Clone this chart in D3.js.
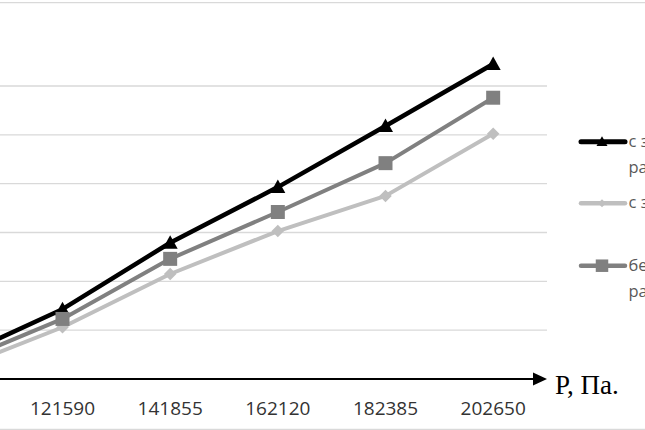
<!DOCTYPE html>
<html>
<head>
<meta charset="utf-8">
<script src="https://cdn.jsdelivr.net/npm/d3@7"></script>
<style>
  html, body { margin: 0; padding: 0; background: #fff; }
  svg { display: block; }
</style>
</head>
<body>
<svg id="chart" width="645" height="430"></svg>
<script>
// ---- data (arbitrary units, one gridline = 1) ----
const categories = ["101325", "121590", "141855", "162120", "182385", "202650"];
const seriesNames = ["с заземлением рамы", "с заземлением", "без заземления рамы"];
const seriesA = [0.41, 1.43, 2.79, 3.93, 5.18, 6.45];   // black, triangles
const seriesB = [0.19, 1.06, 2.15, 3.03, 3.75, 5.02];   // light grey, diamonds
const seriesC = [0.31, 1.23, 2.46, 3.42, 4.42, 5.76];   // grey, squares
const yTicks = [0, 1, 2, 3, 4, 5, 6];
const axisTitle = "P, Па.";

const svg = d3.select("#chart");
const W = 645, H = 430;

// chart outer borders (top and bottom visible)
svg.append("line").attr("x1", 0).attr("x2", W).attr("y1", 2.7).attr("y2", 2.7)
  .attr("stroke", "#d9d9d9").attr("stroke-width", 1.3);
svg.append("line").attr("x1", 0).attr("x2", W).attr("y1", 429.3).attr("y2", 429.3)
  .attr("stroke", "#d9d9d9").attr("stroke-width", 1.3);

// plot area (left part lies outside the visible picture)
const plot = { left: -99, right: 547, top: 86, bottom: 379 };

const x = d3.scaleBand().domain(categories).range([plot.left, plot.right]).padding(0);
const cx = c => x(c) + x.bandwidth() / 2;
const y = d3.scaleLinear().domain([0, 6]).range([plot.bottom, plot.top]);

// gridlines
svg.append("g").selectAll("line").data(yTicks.filter(t => t > 0)).join("line")
  .attr("x1", plot.left).attr("x2", plot.right)
  .attr("y1", d => y(d)).attr("y2", d => y(d))
  .attr("stroke", "#d9d9d9").attr("stroke-width", 1.3);

// x axis line with arrow
svg.append("line").attr("x1", plot.left).attr("x2", plot.right - 10)
  .attr("y1", y(0)).attr("y2", y(0)).attr("stroke", "#000").attr("stroke-width", 2);
svg.append("path")
  .attr("d", `M${plot.right},${y(0)} L${plot.right - 14},${y(0) - 6.5} L${plot.right - 14},${y(0) + 6.5} Z`)
  .attr("fill", "#000");

// category tick labels
const xAxis = d3.axisBottom(x).tickSize(0).tickPadding(0);
const gx = svg.append("g").attr("transform", `translate(0,${y(0)})`).call(xAxis);
gx.select(".domain").remove();
gx.selectAll("text")
  .attr("y", 36).attr("dy", 0)
  .attr("font-family", "'Open Sans', 'Noto Sans', sans-serif")
  .attr("font-size", 19)
  .attr("fill", "#333333");

// axis title
svg.append("text").attr("x", 555).attr("y", 393.5)
  .attr("font-family", "'Liberation Serif', 'Times New Roman', serif")
  .attr("font-size", 27).attr("fill", "#000").text(axisTitle);

// lines
const lineGen = d3.line().x((d, i) => cx(categories[i])).y(d => y(d));
const series = [
  { vals: seriesA, color: "#000000", width: 4.5, marker: "triangle" },
  { vals: seriesB, color: "#bfbfbf", width: 4, marker: "diamond" },
  { vals: seriesC, color: "#808080", width: 4, marker: "square" }
];

function markerPath(type, s) {
  const h = s / 2;
  if (type === "triangle") return `M0,${-h} L${h},${h * 0.8} L${-h},${h * 0.8} Z`;
  if (type === "diamond") return `M0,${-h} L${h},0 L0,${h} L${-h},0 Z`;
  return `M${-h},${-h} L${h},${-h} L${h},${h} L${-h},${h} Z`;
}
const markerSize = { triangle: 15, diamond: 12.5, square: 14 };

series.forEach(s => {
  svg.append("path").datum(s.vals).attr("d", lineGen)
    .attr("fill", "none").attr("stroke", s.color).attr("stroke-width", s.width)
    .attr("stroke-linejoin", "round").attr("stroke-linecap", "round");
  svg.append("g").selectAll("path").data(s.vals).join("path")
    .attr("transform", (d, i) => `translate(${cx(categories[i])},${y(d)})`)
    .attr("d", markerPath(s.marker, markerSize[s.marker]))
    .attr("fill", s.color);
});

// legend
const legend = [
  { s: series[0], y: 141.7, lines: ["с заземлением", "рамы"], msize: 11 },
  { s: series[1], y: 203.3, lines: ["с заземлением"], msize: 8 },
  { s: series[2], y: 265.7, lines: ["без заземления", "рамы"], msize: 12.5 }
];
legend.forEach(l => {
  svg.append("line").attr("x1", 581).attr("x2", 625).attr("y1", l.y).attr("y2", l.y)
    .attr("stroke", l.s.color).attr("stroke-width", l.s.width + 0.5).attr("stroke-linecap", "round");
  svg.append("path").attr("transform", `translate(602,${l.y})`)
    .attr("d", markerPath(l.s.marker, l.msize)).attr("fill", l.s.color);
  const t = svg.append("text")
    .attr("font-family", "'Open Sans', 'Noto Sans', sans-serif")
    .attr("font-size", 16.5).attr("fill", "#595959");
  l.lines.forEach((ln, i) => {
    t.append("tspan").attr("x", 628.5).attr("y", l.y + 5 + i * 26).text(ln);
  });
});
</script>
</body>
</html>
